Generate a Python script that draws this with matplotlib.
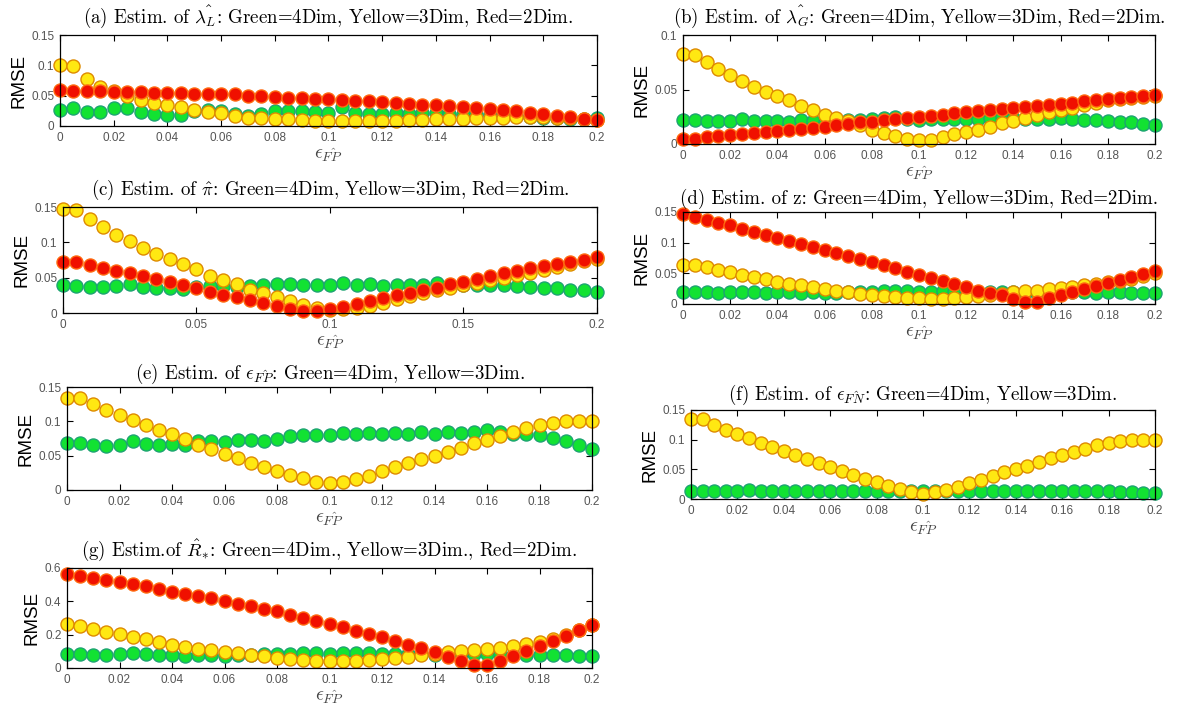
import numpy as np
import matplotlib
matplotlib.use("Agg")
import matplotlib.pyplot as plt
from matplotlib.ticker import FuncFormatter

plt.rcParams['mathtext.fontset'] = 'cm'
plt.rcParams['axes.formatter.use_mathtext'] = True

# false-positive rate grid (x axis of every panel)
eps_fp = np.round(np.arange(41) * 0.005, 3)

# (a) lambda_L
a_green = [0.027, 0.030, 0.023, 0.023, 0.030, 0.030, 0.023, 0.020, 0.018, 0.018,
           0.025, 0.027, 0.024, 0.019, 0.017, 0.020, 0.025, 0.024, 0.025, 0.023,
           0.022, 0.032, 0.022, 0.020, 0.020, 0.022, 0.020, 0.021, 0.021, 0.020,
           0.020, 0.019, 0.018, 0.017, 0.016, 0.015, 0.014, 0.013, 0.012, 0.012, 0.014]
a_yellow = [0.100, 0.099, 0.078, 0.065, 0.057, 0.050, 0.043, 0.038, 0.034, 0.031,
            0.026, 0.023, 0.021, 0.017, 0.014, 0.013, 0.012, 0.011, 0.010, 0.009,
            0.008, 0.008, 0.008, 0.008, 0.008, 0.009, 0.010, 0.010, 0.011, 0.011,
            0.012, 0.013, 0.014, 0.014, 0.015, 0.015, 0.015, 0.014, 0.013, 0.011, 0.010]
a_red = [0.060, 0.058, 0.058, 0.058, 0.056, 0.056, 0.056, 0.055, 0.055, 0.054,
         0.053, 0.053, 0.052, 0.052, 0.050, 0.050, 0.048, 0.046, 0.046, 0.045,
         0.044, 0.043, 0.042, 0.041, 0.040, 0.038, 0.037, 0.035, 0.035, 0.033,
         0.032, 0.030, 0.028, 0.026, 0.024, 0.022, 0.020, 0.017, 0.015, 0.012, 0.010]

# (b) lambda_G
b_green = [0.022, 0.022, 0.021, 0.021, 0.021, 0.023, 0.021, 0.021, 0.021, 0.020,
           0.022, 0.021, 0.020, 0.021, 0.022, 0.022, 0.023, 0.024, 0.025, 0.023,
           0.022, 0.023, 0.023, 0.023, 0.023, 0.023, 0.024, 0.025, 0.024, 0.023,
           0.023, 0.023, 0.024, 0.023, 0.022, 0.022, 0.021, 0.020, 0.020, 0.018, 0.017]
b_yellow = [0.083, 0.082, 0.075, 0.069, 0.063, 0.058, 0.052, 0.048, 0.044, 0.040,
            0.035, 0.031, 0.027, 0.024, 0.021, 0.017, 0.013, 0.010, 0.007, 0.005,
            0.004, 0.004, 0.006, 0.009, 0.011, 0.013, 0.016, 0.019, 0.021, 0.024,
            0.027, 0.029, 0.031, 0.033, 0.036, 0.038, 0.040, 0.041, 0.042, 0.043, 0.044]
b_red = [0.005, 0.005, 0.006, 0.007, 0.008, 0.009, 0.010, 0.011, 0.012, 0.013,
         0.014, 0.015, 0.016, 0.017, 0.018, 0.020, 0.020, 0.022, 0.023, 0.024,
         0.025, 0.026, 0.027, 0.028, 0.029, 0.030, 0.031, 0.032, 0.033, 0.034,
         0.035, 0.036, 0.037, 0.038, 0.039, 0.040, 0.041, 0.042, 0.043, 0.044, 0.045]

# (c) pi
c_green = [0.040, 0.038, 0.037, 0.037, 0.038, 0.041, 0.037, 0.035, 0.036, 0.034,
           0.037, 0.038, 0.038, 0.037, 0.038, 0.039, 0.041, 0.041, 0.040, 0.040,
           0.040, 0.043, 0.040, 0.041, 0.038, 0.039, 0.040, 0.040, 0.042, 0.039,
           0.039, 0.040, 0.040, 0.039, 0.038, 0.037, 0.036, 0.035, 0.033, 0.032, 0.030]
c_yellow = [0.147, 0.146, 0.133, 0.121, 0.111, 0.102, 0.092, 0.084, 0.076, 0.069,
            0.062, 0.053, 0.046, 0.041, 0.033, 0.028, 0.022, 0.017, 0.012, 0.007,
            0.004, 0.005, 0.007, 0.010, 0.014, 0.020, 0.024, 0.028, 0.032, 0.036,
            0.040, 0.043, 0.046, 0.050, 0.054, 0.057, 0.061, 0.065, 0.069, 0.073, 0.077]
c_red = [0.072, 0.072, 0.068, 0.064, 0.060, 0.056, 0.052, 0.048, 0.044, 0.040,
         0.035, 0.030, 0.026, 0.022, 0.018, 0.014, 0.010, 0.006, 0.003, 0.003,
         0.005, 0.009, 0.013, 0.017, 0.021, 0.025, 0.028, 0.032, 0.036, 0.041,
         0.044, 0.048, 0.052, 0.056, 0.060, 0.063, 0.066, 0.069, 0.072, 0.075, 0.079]

# (d) z
d_green = [0.019, 0.019, 0.019, 0.018, 0.019, 0.020, 0.019, 0.018, 0.019, 0.019,
           0.018, 0.019, 0.018, 0.018, 0.019, 0.019, 0.020, 0.021, 0.021, 0.021,
           0.020, 0.020, 0.021, 0.019, 0.019, 0.018, 0.019, 0.020, 0.019, 0.018,
           0.018, 0.018, 0.018, 0.019, 0.019, 0.018, 0.019, 0.019, 0.018, 0.018, 0.018]
d_yellow = [0.064, 0.064, 0.061, 0.056, 0.052, 0.048, 0.044, 0.040, 0.036, 0.033,
            0.031, 0.028, 0.025, 0.022, 0.020, 0.017, 0.015, 0.013, 0.011, 0.010,
            0.009, 0.008, 0.008, 0.009, 0.011, 0.013, 0.015, 0.017, 0.019, 0.021,
            0.022, 0.024, 0.026, 0.028, 0.031, 0.033, 0.036, 0.038, 0.041, 0.045, 0.050]
d_red = [0.146, 0.142, 0.137, 0.132, 0.128, 0.123, 0.118, 0.113, 0.108, 0.103,
         0.098, 0.093, 0.088, 0.083, 0.078, 0.073, 0.068, 0.063, 0.058, 0.052,
         0.047, 0.042, 0.037, 0.032, 0.027, 0.022, 0.018, 0.014, 0.008, 0.003,
         0.004, 0.009, 0.014, 0.019, 0.024, 0.030, 0.034, 0.039, 0.044, 0.049, 0.054]

# (e) eps_FP
e_green = [0.069, 0.068, 0.066, 0.064, 0.066, 0.071, 0.067, 0.066, 0.067, 0.065,
           0.071, 0.072, 0.070, 0.073, 0.073, 0.072, 0.075, 0.078, 0.080, 0.080,
           0.080, 0.083, 0.081, 0.083, 0.081, 0.083, 0.081, 0.085, 0.082, 0.085,
           0.083, 0.085, 0.087, 0.084, 0.082, 0.082, 0.080, 0.076, 0.072, 0.066, 0.060]
e_yellow = [0.134, 0.134, 0.125, 0.117, 0.109, 0.102, 0.094, 0.088, 0.081, 0.074,
            0.066, 0.059, 0.052, 0.046, 0.040, 0.034, 0.028, 0.022, 0.017, 0.012,
            0.010, 0.012, 0.016, 0.021, 0.027, 0.033, 0.039, 0.045, 0.050, 0.055,
            0.061, 0.068, 0.073, 0.079, 0.085, 0.090, 0.095, 0.098, 0.100, 0.100, 0.100]

# (f) eps_FN
f_green = [0.014, 0.014, 0.014, 0.014, 0.014, 0.016, 0.014, 0.014, 0.014, 0.014,
           0.014, 0.014, 0.014, 0.013, 0.013, 0.013, 0.014, 0.013, 0.014, 0.014,
           0.014, 0.014, 0.013, 0.013, 0.014, 0.014, 0.014, 0.014, 0.014, 0.014,
           0.014, 0.013, 0.013, 0.013, 0.013, 0.013, 0.013, 0.011, 0.011, 0.010, 0.010]
f_yellow = [0.135, 0.135, 0.125, 0.117, 0.110, 0.103, 0.095, 0.088, 0.081, 0.074,
            0.067, 0.060, 0.054, 0.048, 0.041, 0.034, 0.028, 0.022, 0.017, 0.012,
            0.009, 0.012, 0.016, 0.021, 0.027, 0.032, 0.038, 0.045, 0.051, 0.056,
            0.063, 0.069, 0.075, 0.080, 0.085, 0.091, 0.094, 0.098, 0.099, 0.099, 0.100]

# (g) R_*
g_green = [0.082, 0.082, 0.078, 0.078, 0.082, 0.088, 0.082, 0.080, 0.080, 0.075,
           0.080, 0.080, 0.075, 0.080, 0.080, 0.082, 0.085, 0.085, 0.088, 0.088,
           0.085, 0.088, 0.088, 0.090, 0.085, 0.085, 0.085, 0.082, 0.080, 0.085,
           0.082, 0.082, 0.085, 0.082, 0.080, 0.078, 0.080, 0.078, 0.078, 0.075, 0.072]
g_yellow = [0.262, 0.255, 0.237, 0.218, 0.203, 0.188, 0.172, 0.155, 0.140, 0.125,
            0.115, 0.108, 0.097, 0.088, 0.080, 0.072, 0.062, 0.055, 0.050, 0.045,
            0.040, 0.043, 0.045, 0.048, 0.055, 0.060, 0.068, 0.078, 0.085, 0.095,
            0.100, 0.107, 0.115, 0.122, 0.135, 0.145, 0.158, 0.175, 0.200, 0.228, 0.258]
g_red = [0.565, 0.550, 0.543, 0.530, 0.517, 0.505, 0.492, 0.477, 0.459, 0.444,
         0.430, 0.418, 0.405, 0.385, 0.372, 0.353, 0.340, 0.318, 0.298, 0.280,
         0.265, 0.245, 0.225, 0.202, 0.185, 0.162, 0.140, 0.118, 0.097, 0.068,
         0.040, 0.020, 0.018, 0.040, 0.070, 0.100, 0.130, 0.165, 0.195, 0.228, 0.260]

W, H = 1187, 713
STYLE = {
    'green': dict(mfc='#12e232', mec='#1da472'),
    'yellow': dict(mfc='#ffe812', mec='#de8a00'),
    'red': dict(mfc='#f01000', mec='#ff6a10'),
}
SERIF = ['cmr10', 'DejaVu Serif']
SANS = ['Liberation Sans', 'DejaVu Sans']
TICK_GREY = '#555555'


def fmt(v, pos):
    return '%g' % round(v, 4)


def panel(fig, box, title, series, ymax, yticks, xticks, tpad=9):
    x0, y0, x1, y1 = box
    ax = fig.add_axes([x0 / W, 1 - y1 / H, (x1 - x0) / W, (y1 - y0) / H])
    for name, vals in series:
        ax.plot(eps_fp, vals, 'o', ms=9.4, mew=1.0, clip_on=False, **STYLE[name])
    ax.set_xlim(0, 0.2)
    ax.set_ylim(0, ymax)
    ax.set_xticks(xticks)
    ax.set_yticks(yticks)
    ax.xaxis.set_major_formatter(FuncFormatter(fmt))
    ax.yaxis.set_major_formatter(FuncFormatter(fmt))
    ax.tick_params(direction='in', top=True, right=True, length=4, width=0.8,
                   labelsize=8.5, labelcolor=TICK_GREY, pad=4)
    for lab in ax.get_xticklabels() + ax.get_yticklabels():
        lab.set_family(SANS)
    for sp in ax.spines.values():
        sp.set_linewidth(0.9)
    ax.set_title(title, fontsize=13.6, family=SERIF, pad=tpad)
    ax.set_ylabel('RMSE', fontsize=13.5, family=SANS, labelpad=3)
    ax.set_xlabel(r'$\epsilon_{\hat{FP}}$', fontsize=14, color='#444444', labelpad=1)
    return ax


fig = plt.figure(figsize=(W / 100, H / 100), dpi=100)

fine = np.round(np.arange(0, 0.2001, 0.02), 2)
coarse = [0, 0.05, 0.1, 0.15, 0.2]

panel(fig, (60, 35, 597, 126),
      r'(a) Estim. of $\hat{\lambda_L}$: Green=4Dim, Yellow=3Dim, Red=2Dim.',
      [('green', a_green), ('yellow', a_yellow), ('red', a_red)],
      0.15, [0, 0.05, 0.1, 0.15], fine)
panel(fig, (683, 35, 1155, 144),
      r'(b) Estim. of $\hat{\lambda_G}$: Green=4Dim, Yellow=3Dim, Red=2Dim.',
      [('green', b_green), ('yellow', b_yellow), ('red', b_red)],
      0.1, [0, 0.05, 0.1], fine)
panel(fig, (63, 207, 597, 313),
      r'(c) Estim. of $\hat{\pi}$: Green=4Dim, Yellow=3Dim, Red=2Dim.',
      [('green', c_green), ('yellow', c_yellow), ('red', c_red)],
      0.15, [0, 0.05, 0.1, 0.15], coarse)
panel(fig, (683, 212, 1155, 304),
      '(d) Estim. of z: Green=4Dim, Yellow=3Dim, Red=2Dim.',
      [('green', d_green), ('yellow', d_yellow), ('red', d_red)],
      0.15, [0, 0.05, 0.1, 0.15], fine, tpad=6)
panel(fig, (67, 387, 592, 490),
      r'(e) Estim. of $\epsilon_{\hat{FP}}$: Green=4Dim, Yellow=3Dim.',
      [('green', e_green), ('yellow', e_yellow)],
      0.15, [0, 0.05, 0.1, 0.15], fine, tpad=6)
panel(fig, (691, 410, 1155, 499),
      r'(f) Estim. of $\epsilon_{\hat{FN}}$: Green=4Dim, Yellow=3Dim.',
      [('green', f_green), ('yellow', f_yellow)],
      0.15, [0, 0.05, 0.1, 0.15], fine, tpad=7)
panel(fig, (67, 568, 592, 668),
      r'(g) Estim.of $\hat{R}_{*}$: Green=4Dim., Yellow=3Dim., Red=2Dim.',
      [('green', g_green), ('yellow', g_yellow), ('red', g_red)],
      0.6, [0, 0.2, 0.4, 0.6], fine)

fig.savefig('out.png', dpi=100)
